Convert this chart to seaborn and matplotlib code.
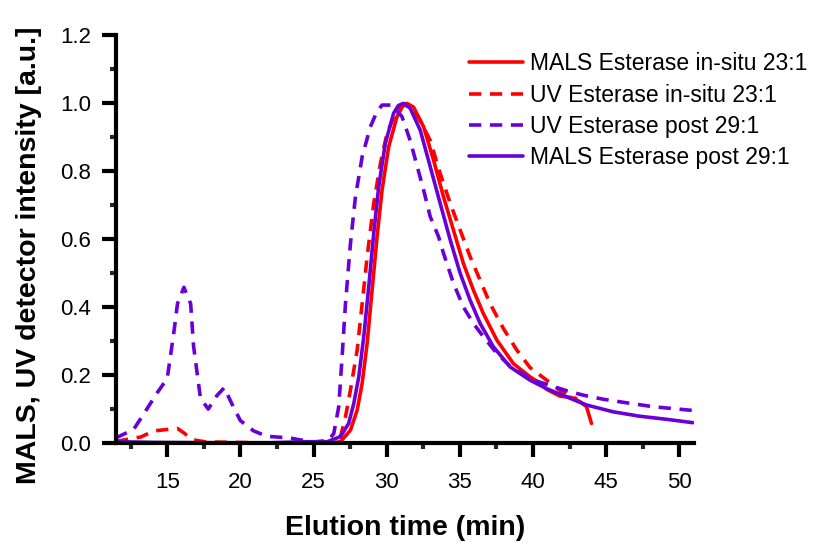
import numpy as np
import pandas as pd
import matplotlib
matplotlib.use("Agg")
import matplotlib.pyplot as plt
import seaborn as sns

# ---- data ----
mals_insitu_x = [11.5, 14.0, 18.0, 22.0, 25.0, 26.16, 26.84, 27.52, 27.98, 28.32, 28.66, 29.0, 29.34, 29.68,
                 30.13, 30.7, 31.1, 31.38, 31.83, 32.52, 33.2, 33.88, 34.56, 35.24, 35.92, 36.6, 37.52,
                 38.65, 39.79, 40.47, 40.93, 41.84, 42.63, 43.2, 43.65, 43.99]
mals_insitu_y = [0.002, 0.001, 0.001, 0.0, 0.0, 0.0, 0.004, 0.038, 0.097, 0.176, 0.293, 0.45, 0.607, 0.744,
                 0.871, 0.96, 0.992, 0.999, 0.988, 0.93, 0.832, 0.724, 0.626, 0.528, 0.45, 0.381, 0.303,
                 0.234, 0.195, 0.176, 0.158, 0.138, 0.134, 0.122, 0.107, 0.058]

uv_insitu_x = [11.5, 13.2, 14.1, 15.0, 15.7, 16.14, 16.7, 17.7, 18.4, 21.0, 24.0, 26.0, 26.84, 27.18, 27.52,
               27.98, 28.32, 28.66, 29.11, 29.57, 30.02, 30.59, 31.15, 31.6, 32.2, 32.97, 33.65, 34.34,
               35.02, 35.7, 36.38, 37.06, 37.97, 38.88, 39.79, 40.93, 41.95, 42.63, 43.0]
uv_insitu_y = [0.005, 0.018, 0.036, 0.04, 0.043, 0.03, 0.01, 0.003, 0.003, 0.001, 0.0, 0.0, 0.019, 0.077, 0.156,
               0.274, 0.41, 0.548, 0.705, 0.823, 0.911, 0.97, 0.994, 0.99, 0.955, 0.89, 0.793, 0.705,
               0.626, 0.548, 0.479, 0.41, 0.337, 0.274, 0.222, 0.185, 0.151, 0.136, 0.13]

uv_post_x = [11.48, 12.7, 13.4, 14.3, 15.0, 15.45, 15.7, 16.14, 16.6, 16.8, 17.27, 17.8, 18.4, 18.9, 19.4,
             20.0, 20.9, 21.8, 23.4, 24.0, 25.0, 26.0, 26.38, 26.72, 26.95, 27.18, 27.52, 27.86, 28.32,
             28.88, 29.3, 29.68, 30.36, 31.04, 31.6, 32.52, 32.97, 33.54, 33.88, 34.56, 35.24, 35.92, 36.6,
             37.52, 38.43, 40.01, 41.15, 42.29, 43.42, 44.79, 46.15, 48.2, 50.9]
uv_post_y = [0.015, 0.04, 0.086, 0.147, 0.19, 0.325, 0.41, 0.458, 0.41, 0.285, 0.132, 0.10, 0.14, 0.163, 0.117,
             0.066, 0.036, 0.02, 0.015, 0.01, 0.003, 0.008, 0.028, 0.107, 0.254, 0.41, 0.587, 0.724, 0.842,
             0.93, 0.972, 0.994, 0.994, 0.96, 0.89, 0.744, 0.666, 0.607, 0.558, 0.47, 0.40, 0.352, 0.313,
             0.264, 0.226, 0.185, 0.17, 0.154, 0.141, 0.129, 0.12, 0.107, 0.096]

mals_post_x = [11.5, 14.0, 18.0, 22.0, 24.5, 25.93, 26.84, 27.4, 27.75, 28.09, 28.43, 28.77, 29.11, 29.45,
               29.9, 30.47, 30.8, 31.15, 31.6, 32.29, 32.97, 33.65, 34.34, 35.02, 35.7, 36.38, 37.29,
               38.43, 39.79, 40.93, 42.29, 43.65, 45.47, 47.29, 49.11, 50.92]
mals_post_y = [0.004, 0.002, 0.001, 0.001, 0.004, 0.004, 0.019, 0.058, 0.117, 0.195, 0.313, 0.46, 0.617, 0.754,
               0.881, 0.97, 0.993, 0.999, 0.985, 0.92, 0.813, 0.705, 0.597, 0.499, 0.42, 0.352, 0.283,
               0.224, 0.185, 0.16, 0.136, 0.112, 0.092, 0.079, 0.07, 0.06]

series_names = ["MALS Esterase in-situ 23:1", "UV Esterase in-situ 23:1",
                "UV Esterase post 29:1", "MALS Esterase post 29:1"]

RED = "#FF0000"
PURPLE = "#6A00D8"

sns.set_style("white")
plt.rcParams["font.family"] = ["Liberation Sans", "DejaVu Sans"]
plt.rcParams["text.color"] = "black"
plt.rcParams["axes.labelcolor"] = "black"

fig = plt.figure(figsize=(8.13, 5.43), dpi=100)
ax = fig.add_axes([0.1427, 0.184, 0.711, 0.7515])

specs = [
    (mals_insitu_x, mals_insitu_y, series_names[0], RED, "-"),
    (uv_insitu_x, uv_insitu_y, series_names[1], RED, "--"),
    (uv_post_x, uv_post_y, series_names[2], PURPLE, "--"),
    (mals_post_x, mals_post_y, series_names[3], PURPLE, "-"),
]
for xs, ys, name, col, ls in specs:
    df = pd.DataFrame({"t": xs, "v": ys})
    sns.lineplot(data=df, x="t", y="v", ax=ax, color=col, linewidth=2.6, label=name, sort=False)
    if ls == "--":
        ax.lines[-1].set_dashes([3.4, 2.4])

ax.set_xlim(11.5, 51.0)
ax.set_ylim(0, 1.2)
ax.set_xticks([15, 20, 25, 30, 35, 40, 45, 50])
ax.set_yticks([0.0, 0.2, 0.4, 0.6, 0.8, 1.0, 1.2])
ax.set_yticklabels(["0.0", "0.2", "0.4", "0.6", "0.8", "1.0", "1.2"])
ax.set_xticks(np.arange(12.5, 51, 5), minor=True)
ax.set_yticks(np.arange(0.1, 1.2, 0.2), minor=True)

for side in ["top", "right"]:
    ax.spines[side].set_visible(False)
for side in ["left", "bottom"]:
    ax.spines[side].set_linewidth(3.0)
    ax.spines[side].set_color("black")

ax.tick_params(axis="both", which="major", direction="out", length=10, width=3.0,
               labelsize=16, colors="black", pad=8)
ax.tick_params(axis="x", which="major", pad=11)
ax.tick_params(axis="both", which="minor", direction="out", length=4.5, width=3.0)
ax.tick_params(axis="x", which="both", bottom=True)
ax.tick_params(axis="y", which="both", left=True)

ax.set_xlabel("Elution time (min)", fontsize=20.5, fontweight="bold", labelpad=16)
ax.set_ylabel("MALS, UV detector intensity [a.u.]", fontsize=20.5, fontweight="bold")
ax.yaxis.set_label_coords(-0.128, 0.46)

leg = ax.legend(loc="upper left", bbox_to_anchor=(0.595, 0.98), frameon=False, fontsize=16.5,
                handlelength=2.35, handletextpad=0.3, labelspacing=0.36, borderaxespad=0)

fig.savefig("out.png", dpi=100)
